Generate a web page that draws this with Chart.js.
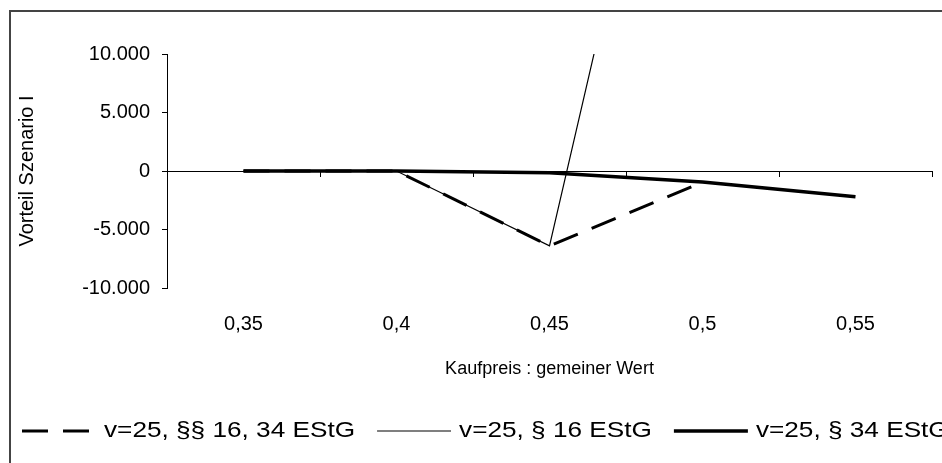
<!DOCTYPE html>
<html>
<head>
<meta charset="utf-8">
<script src="https://cdn.jsdelivr.net/npm/chart.js@4"></script>
<style>
  html, body { margin: 0; padding: 0; background: #fff; overflow: hidden; }
  #wrap { position: relative; width: 942px; height: 463px; overflow: hidden; }
  #frame { position: absolute; left: 9px; top: 10px; width: 1000px; height: 1000px; border: 2px solid #444; }
  canvas { position: absolute; left: 0; top: 0; }
</style>
</head>
<body>
<div id="wrap">
  <div id="frame"></div>
  <canvas id="chart" width="942" height="463"></canvas>
</div>
<script>
/* Vorteil Szenario I in Abhängigkeit von Kaufpreis : gemeiner Wert */
const labels    = ['0,35', '0,4', '0,45', '0,5', '0,55'];
const vBoth     = [0, 0, -6400, -950, null];     // v=25, §§ 16, 34 EStG
const v16       = [0, 0, -6400, 50000, null];    // v=25, § 16 EStG
const v34       = [0, 0, -150, -950, -2200];     // v=25, § 34 EStG
const seriesNames = ['v=25, §§ 16, 34 EStG', 'v=25, § 16 EStG', 'v=25, § 34 EStG'];
const yTicks    = [-10000, -5000, 0, 5000, 10000];

const FONT = 'Liberation Sans, Arial, sans-serif';
Chart.defaults.font.family = FONT;
Chart.defaults.color = '#000';

/* legend drawn by hand so it can run off the right edge like the original */
const legendLine = {
  id: 'legendLine',
  afterDraw(chart) {
    const ctx = chart.ctx;
    const sx = 1.19;           // the original legend text is drawn wide
    let x = 22;
    const y = 431;
    ctx.save();
    ctx.font = '22px ' + FONT;
    ctx.textBaseline = 'middle';
    ctx.fillStyle = '#000';
    chart.data.datasets.forEach(ds => {
      ctx.beginPath();
      ctx.setLineDash(ds.borderDash || []);
      ctx.lineWidth = ds.borderWidth;
      ctx.strokeStyle = ds.borderColor;
      ctx.moveTo(x, y); ctx.lineTo(x + 74, y);
      ctx.stroke();
      x += 82;
      ctx.save();
      ctx.translate(x, y); ctx.scale(sx, 1);
      ctx.fillText(ds.label, 0, 0);
      ctx.restore();
      x += ctx.measureText(ds.label).width * sx + 22;
    });
    ctx.restore();
  }
};

new Chart(document.getElementById('chart'), {
  type: 'line',
  data: {
    labels,
    datasets: [
      { label: seriesNames[0], data: vBoth, borderColor: '#000', borderWidth: 3, borderDash: [26, 15], pointRadius: 0, tension: 0 },
      { label: seriesNames[1], data: v16,   borderColor: '#000', borderWidth: 1.2, pointRadius: 0, tension: 0 },
      { label: seriesNames[2], data: v34,   borderColor: '#000', borderWidth: 3.5, pointRadius: 0, tension: 0 }
    ]
  },
  options: {
    responsive: false, animation: false, locale: 'de-DE',
    layout: { padding: { left: 12, right: 10, top: 54, bottom: 83 } },
    plugins: { legend: { display: false }, tooltip: { enabled: false } },
    scales: {
      x: {
        offset: true,
        grid: { display: false, drawTicks: false },
        border: { display: false },
        ticks: { font: { size: 20 }, padding: 24 },
        title: { display: true, text: 'Kaufpreis : gemeiner Wert', font: { size: 18 }, padding: { top: 0, bottom: 0 } },
        afterFit: s => { s.height = 92; }
      },
      x0: {
        type: 'category', labels, offset: true,
        position: { y: 0 },
        grid: { drawOnChartArea: false, offset: true, tickLength: 5, color: '#000' },
        border: { display: true, color: '#000', width: 1 },
        ticks: { display: false }
      },
      y: {
        min: -10000, max: 10000,
        afterBuildTicks: s => { s.ticks = yTicks.map(v => ({ value: v })); },
        grid: { drawOnChartArea: false, tickLength: 5, color: '#000' },
        border: { display: true, color: '#000', width: 1 },
        ticks: { font: { size: 20 }, padding: 12 },
        title: { display: true, text: 'Vorteil Szenario I', font: { size: 20 }, padding: 3 },
        afterFit: s => { s.width = 155; }
      }
    }
  },
  plugins: [legendLine]
});
</script>
</body>
</html>
